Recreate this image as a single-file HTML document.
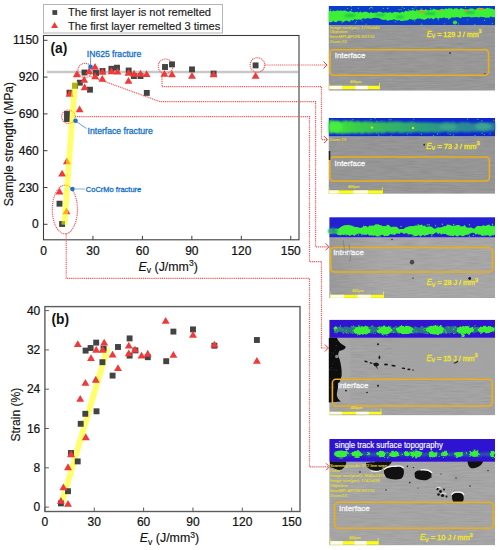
<!DOCTYPE html><html><head><meta charset="utf-8"><style>html,body{margin:0;padding:0;background:#fff;width:500px;height:550px;overflow:hidden;}</style></head><body><svg width="500" height="550" viewBox="0 0 500 550" style="display:block;font-family:'Liberation Sans', sans-serif">
<defs><filter id="bl1" x="-20%" y="-50%" width="140%" height="200%"><feGaussianBlur stdDeviation="0.8"/></filter><filter id="bl2" x="-20%" y="-50%" width="140%" height="200%"><feGaussianBlur stdDeviation="1.5"/></filter></defs>
<rect width="500" height="550" fill="#fff"/>
<rect x="43.5" y="4.5" width="179" height="28.5" fill="#fff" stroke="#b4b4b4" stroke-width="1"/>
<rect x="52.40" y="10.10" width="4.8" height="4.8" fill="#434343"/>
<polygon points="54.60,22.12 58.10,28.12 51.10,28.12" fill="#f03a3a"/>
<text x="68" y="16.3" font-size="11.1" fill="#1a1a1a" stroke="#1a1a1a" stroke-width="0.15">The first layer is not remelted</text>
<text x="68" y="29.8" font-size="11.1" fill="#1a1a1a" stroke="#1a1a1a" stroke-width="0.15">The first layer remelted 3 times</text>
<line x1="47" y1="72" x2="298" y2="72" stroke="#c8c8c8" stroke-width="2.4"/>
<rect x="43.5" y="35.5" width="255.5" height="204.3" fill="none" stroke="#3c3c3c" stroke-width="1.1"/>
<line x1="43.5" y1="40.30" x2="47.5" y2="40.30" stroke="#3c3c3c" stroke-width="1"/>
<text x="38.8" y="44.40" font-size="12" text-anchor="end" fill="#111" stroke="#111" stroke-width="0.22">1150</text>
<line x1="43.5" y1="77.10" x2="47.5" y2="77.10" stroke="#3c3c3c" stroke-width="1"/>
<text x="38.8" y="81.20" font-size="12" text-anchor="end" fill="#111" stroke="#111" stroke-width="0.22">920</text>
<line x1="43.5" y1="113.90" x2="47.5" y2="113.90" stroke="#3c3c3c" stroke-width="1"/>
<text x="38.8" y="118.00" font-size="12" text-anchor="end" fill="#111" stroke="#111" stroke-width="0.22">690</text>
<line x1="43.5" y1="150.70" x2="47.5" y2="150.70" stroke="#3c3c3c" stroke-width="1"/>
<text x="38.8" y="154.80" font-size="12" text-anchor="end" fill="#111" stroke="#111" stroke-width="0.22">460</text>
<line x1="43.5" y1="187.50" x2="47.5" y2="187.50" stroke="#3c3c3c" stroke-width="1"/>
<text x="38.8" y="191.60" font-size="12" text-anchor="end" fill="#111" stroke="#111" stroke-width="0.22">230</text>
<line x1="43.5" y1="224.30" x2="47.5" y2="224.30" stroke="#3c3c3c" stroke-width="1"/>
<text x="38.8" y="228.40" font-size="12" text-anchor="end" fill="#111" stroke="#111" stroke-width="0.22">0</text>
<line x1="43.50" y1="239.8" x2="43.50" y2="235.8" stroke="#3c3c3c" stroke-width="1"/>
<text x="43.50" y="254.7" font-size="12" text-anchor="middle" fill="#111" stroke="#111" stroke-width="0.22">0</text>
<line x1="92.95" y1="239.8" x2="92.95" y2="235.8" stroke="#3c3c3c" stroke-width="1"/>
<text x="92.95" y="254.7" font-size="12" text-anchor="middle" fill="#111" stroke="#111" stroke-width="0.22">30</text>
<line x1="142.40" y1="239.8" x2="142.40" y2="235.8" stroke="#3c3c3c" stroke-width="1"/>
<text x="142.40" y="254.7" font-size="12" text-anchor="middle" fill="#111" stroke="#111" stroke-width="0.22">60</text>
<line x1="191.85" y1="239.8" x2="191.85" y2="235.8" stroke="#3c3c3c" stroke-width="1"/>
<text x="191.85" y="254.7" font-size="12" text-anchor="middle" fill="#111" stroke="#111" stroke-width="0.22">90</text>
<line x1="241.30" y1="239.8" x2="241.30" y2="235.8" stroke="#3c3c3c" stroke-width="1"/>
<text x="241.30" y="254.7" font-size="12" text-anchor="middle" fill="#111" stroke="#111" stroke-width="0.22">120</text>
<line x1="290.75" y1="239.8" x2="290.75" y2="235.8" stroke="#3c3c3c" stroke-width="1"/>
<text x="290.75" y="254.7" font-size="12" text-anchor="middle" fill="#111" stroke="#111" stroke-width="0.22">150</text>
<text transform="translate(12.7,144.1) rotate(-90)" font-size="12.1" text-anchor="middle" fill="#111" stroke="#111" stroke-width="0.15">Sample strength (MPa)</text>
<text x="168.2" y="270.5" font-size="12.4" text-anchor="middle" fill="#111" stroke="#111" stroke-width="0.15"><tspan font-style="italic">E</tspan><tspan font-size="8.6" dy="2.6">v</tspan><tspan dy="-2.6"> (J/mm</tspan><tspan font-size="8.6" dy="-4.8">3</tspan><tspan dy="4.8">)</tspan></text>
<text x="50.5" y="52.5" font-size="13.8" font-weight="bold" fill="#111">(a)</text>
<circle cx="85" cy="70.4" r="7.1" fill="none" stroke="#f25858" stroke-width="1.2" stroke-dasharray="1.1,0.8"/>
<circle cx="68.4" cy="116.7" r="6.7" fill="none" stroke="#f25858" stroke-width="1.2" stroke-dasharray="1.1,0.8"/>
<circle cx="165.5" cy="66.3" r="7.3" fill="none" stroke="#f25858" stroke-width="1.2" stroke-dasharray="1.1,0.8"/>
<circle cx="257.4" cy="65" r="7.3" fill="none" stroke="#f25858" stroke-width="1.2" stroke-dasharray="1.1,0.8"/>
<ellipse cx="64.9" cy="209.5" rx="12.6" ry="24.3" fill="none" stroke="#f25858" stroke-width="1.2" stroke-dasharray="1.1,0.8"/>
<polyline points="264.7,65 327,65" fill="none" stroke="#f25858" stroke-width="1.2" stroke-dasharray="1.1,0.8"/>
<polyline points="162,73.5 162,86.6 321.5,86.6 321.5,139.6 327.5,139.6" fill="none" stroke="#f25858" stroke-width="1.2" stroke-dasharray="1.1,0.8"/>
<polyline points="89.5,76 160,101.6 315.6,101.6 315.6,246.8 329,246.8" fill="none" stroke="#f25858" stroke-width="1.2" stroke-dasharray="1.1,0.8"/>
<polyline points="75,116.7 309.5,116.7 309.5,261.6 321.5,261.6 321.5,348 328.4,348" fill="none" stroke="#f25858" stroke-width="1.2" stroke-dasharray="1.1,0.8"/>
<polyline points="66.2,233.6 66.2,278.4 309.5,278.4 309.5,466.8 329.5,466.8" fill="none" stroke="#f25858" stroke-width="1.2" stroke-dasharray="1.1,0.8"/>
<polyline points="323.5,61.5 327,65 323.5,68.5" fill="none" stroke="#f03a3a" stroke-width="1"/>
<polyline points="324.0,136.1 327.5,139.6 324.0,143.1" fill="none" stroke="#f03a3a" stroke-width="1"/>
<polyline points="325.5,243.3 329,246.8 325.5,250.3" fill="none" stroke="#f03a3a" stroke-width="1"/>
<polyline points="324.9,344.5 328.4,348 324.9,351.5" fill="none" stroke="#f03a3a" stroke-width="1"/>
<polyline points="326.0,463.3 329.5,466.8 326.0,470.3" fill="none" stroke="#f03a3a" stroke-width="1"/>
<rect x="81.55" y="69.55" width="5.9" height="5.9" fill="#434343"/>
<rect x="93.05" y="70.05" width="5.9" height="5.9" fill="#434343"/>
<rect x="99.55" y="68.05" width="5.9" height="5.9" fill="#434343"/>
<rect x="108.45" y="65.85" width="5.9" height="5.9" fill="#434343"/>
<rect x="114.05" y="64.75" width="5.9" height="5.9" fill="#434343"/>
<rect x="125.75" y="67.55" width="5.9" height="5.9" fill="#434343"/>
<rect x="130.95" y="73.05" width="5.9" height="5.9" fill="#434343"/>
<rect x="137.55" y="73.05" width="5.9" height="5.9" fill="#434343"/>
<rect x="143.85" y="89.95" width="5.9" height="5.9" fill="#434343"/>
<rect x="162.05" y="64.05" width="5.9" height="5.9" fill="#434343"/>
<rect x="169.05" y="61.45" width="5.9" height="5.9" fill="#434343"/>
<rect x="189.05" y="66.45" width="5.9" height="5.9" fill="#434343"/>
<rect x="210.65" y="70.65" width="5.9" height="5.9" fill="#434343"/>
<rect x="252.65" y="62.45" width="5.9" height="5.9" fill="#434343"/>
<rect x="76.85" y="79.75" width="5.9" height="5.9" fill="#434343"/>
<rect x="72.05" y="82.85" width="5.9" height="5.9" fill="#434343"/>
<rect x="87.05" y="86.75" width="5.9" height="5.9" fill="#434343"/>
<rect x="66.55" y="89.75" width="5.9" height="5.9" fill="#434343"/>
<rect x="64.05" y="111.05" width="5.9" height="5.9" fill="#434343"/>
<rect x="64.05" y="116.05" width="5.9" height="5.9" fill="#434343"/>
<rect x="56.55" y="200.75" width="5.9" height="5.9" fill="#434343"/>
<rect x="59.15" y="221.05" width="5.9" height="5.9" fill="#434343"/>
<polygon points="76.80,70.36 80.75,77.16 72.85,77.16" fill="#f03a3a"/>
<polygon points="89.20,67.36 93.15,74.16 85.25,74.16" fill="#f03a3a"/>
<polygon points="95.00,63.06 98.95,69.86 91.05,69.86" fill="#f03a3a"/>
<polygon points="95.20,72.36 99.15,79.16 91.25,79.16" fill="#f03a3a"/>
<polygon points="102.50,67.86 106.45,74.66 98.55,74.66" fill="#f03a3a"/>
<polygon points="102.30,75.06 106.25,81.86 98.35,81.86" fill="#f03a3a"/>
<polygon points="111.50,67.36 115.45,74.16 107.55,74.16" fill="#f03a3a"/>
<polygon points="117.50,67.76 121.45,74.56 113.55,74.56" fill="#f03a3a"/>
<polygon points="128.50,68.86 132.45,75.66 124.55,75.66" fill="#f03a3a"/>
<polygon points="128.50,77.06 132.45,83.86 124.55,83.86" fill="#f03a3a"/>
<polygon points="134.00,69.86 137.95,76.66 130.05,76.66" fill="#f03a3a"/>
<polygon points="140.50,69.86 144.45,76.66 136.55,76.66" fill="#f03a3a"/>
<polygon points="146.60,70.26 150.55,77.06 142.65,77.06" fill="#f03a3a"/>
<polygon points="84.20,75.86 88.15,82.66 80.25,82.66" fill="#f03a3a"/>
<polygon points="84.60,83.36 88.55,90.16 80.65,90.16" fill="#f03a3a"/>
<polygon points="69.60,89.86 73.55,96.66 65.65,96.66" fill="#f03a3a"/>
<polygon points="79.60,105.46 83.55,112.26 75.65,112.26" fill="#f03a3a"/>
<polygon points="164.40,70.06 168.35,76.86 160.45,76.86" fill="#f03a3a"/>
<polygon points="172.00,70.46 175.95,77.26 168.05,77.26" fill="#f03a3a"/>
<polygon points="192.00,72.06 195.95,78.86 188.05,78.86" fill="#f03a3a"/>
<polygon points="213.60,70.46 217.55,77.26 209.65,77.26" fill="#f03a3a"/>
<polygon points="255.60,72.06 259.55,78.86 251.65,78.86" fill="#f03a3a"/>
<polygon points="62.10,169.66 66.05,176.46 58.15,176.46" fill="#f03a3a"/>
<polygon points="59.50,187.66 63.45,194.46 55.55,194.46" fill="#f03a3a"/>
<polygon points="66.90,157.46 70.85,164.26 62.95,164.26" fill="#f03a3a"/>
<polygon points="66.50,207.46 70.45,214.26 62.55,214.26" fill="#f03a3a"/>
<line x1="75" y1="81.6" x2="64.3" y2="224.7" stroke="#ffff00" stroke-opacity="0.58" stroke-width="5.8"/>
<line x1="90.5" y1="57.5" x2="90.5" y2="66.5" stroke="#3a8ad8" stroke-width="0.8"/>
<circle cx="90.5" cy="66.8" r="2.3" fill="#1f6fd0"/>
<text x="86.8" y="56.8" font-size="8.6" fill="#1570c8" stroke="#1570c8" stroke-width="0.3">IN625 fracture</text>
<line x1="75.5" y1="121" x2="86.5" y2="128.5" stroke="#3a8ad8" stroke-width="0.8"/>
<circle cx="75.5" cy="120.8" r="2.3" fill="#1f6fd0"/>
<text x="87.6" y="133.6" font-size="8.65" fill="#1570c8" stroke="#1570c8" stroke-width="0.3">Interface fracture</text>
<line x1="72.5" y1="189" x2="85" y2="189" stroke="#98c0ec" stroke-width="1.2"/>
<circle cx="72.4" cy="189" r="2.3" fill="#1f6fd0"/>
<text x="85.8" y="192.3" font-size="7.5" fill="#1570c8" stroke="#1570c8" stroke-width="0.3">CoCrMo fracture</text>
<rect x="44.9" y="306.6" width="255.1" height="204.89999999999998" fill="none" stroke="#5c5c5c" stroke-width="1.4"/>
<line x1="44.9" y1="507.10" x2="48.9" y2="507.10" stroke="#5c5c5c" stroke-width="1"/>
<text x="40.3" y="511.20" font-size="12" text-anchor="end" fill="#111" stroke="#111" stroke-width="0.22">0</text>
<line x1="44.9" y1="467.80" x2="48.9" y2="467.80" stroke="#5c5c5c" stroke-width="1"/>
<text x="40.3" y="471.90" font-size="12" text-anchor="end" fill="#111" stroke="#111" stroke-width="0.22">8</text>
<line x1="44.9" y1="428.50" x2="48.9" y2="428.50" stroke="#5c5c5c" stroke-width="1"/>
<text x="40.3" y="432.60" font-size="12" text-anchor="end" fill="#111" stroke="#111" stroke-width="0.22">16</text>
<line x1="44.9" y1="389.20" x2="48.9" y2="389.20" stroke="#5c5c5c" stroke-width="1"/>
<text x="40.3" y="393.30" font-size="12" text-anchor="end" fill="#111" stroke="#111" stroke-width="0.22">24</text>
<line x1="44.9" y1="349.90" x2="48.9" y2="349.90" stroke="#5c5c5c" stroke-width="1"/>
<text x="40.3" y="354.00" font-size="12" text-anchor="end" fill="#111" stroke="#111" stroke-width="0.22">32</text>
<line x1="44.9" y1="310.60" x2="48.9" y2="310.60" stroke="#5c5c5c" stroke-width="1"/>
<text x="40.3" y="314.70" font-size="12" text-anchor="end" fill="#111" stroke="#111" stroke-width="0.22">40</text>
<line x1="44.90" y1="511.5" x2="44.90" y2="507.5" stroke="#5c5c5c" stroke-width="1"/>
<text x="44.90" y="526" font-size="12" text-anchor="middle" fill="#111" stroke="#111" stroke-width="0.22">0</text>
<line x1="94.25" y1="511.5" x2="94.25" y2="507.5" stroke="#5c5c5c" stroke-width="1"/>
<text x="94.25" y="526" font-size="12" text-anchor="middle" fill="#111" stroke="#111" stroke-width="0.22">30</text>
<line x1="143.60" y1="511.5" x2="143.60" y2="507.5" stroke="#5c5c5c" stroke-width="1"/>
<text x="143.60" y="526" font-size="12" text-anchor="middle" fill="#111" stroke="#111" stroke-width="0.22">60</text>
<line x1="192.95" y1="511.5" x2="192.95" y2="507.5" stroke="#5c5c5c" stroke-width="1"/>
<text x="192.95" y="526" font-size="12" text-anchor="middle" fill="#111" stroke="#111" stroke-width="0.22">90</text>
<line x1="242.30" y1="511.5" x2="242.30" y2="507.5" stroke="#5c5c5c" stroke-width="1"/>
<text x="242.30" y="526" font-size="12" text-anchor="middle" fill="#111" stroke="#111" stroke-width="0.22">120</text>
<line x1="291.65" y1="511.5" x2="291.65" y2="507.5" stroke="#5c5c5c" stroke-width="1"/>
<text x="291.65" y="526" font-size="12" text-anchor="middle" fill="#111" stroke="#111" stroke-width="0.22">150</text>
<text transform="translate(20.4,414.6) rotate(-90)" font-size="12.1" text-anchor="middle" fill="#111" stroke="#111" stroke-width="0.15">Strain (%)</text>
<text x="169.5" y="542.3" font-size="12.4" text-anchor="middle" fill="#111" stroke="#111" stroke-width="0.15"><tspan font-style="italic">E</tspan><tspan font-size="8.6" dy="2.6">v</tspan><tspan dy="-2.6"> (J/mm</tspan><tspan font-size="8.6" dy="-4.8">3</tspan><tspan dy="4.8">)</tspan></text>
<text x="51.5" y="323.9" font-size="13.8" font-weight="bold" fill="#111">(b)</text>
<line x1="107.5" y1="348" x2="62" y2="502" stroke="#ffff00" stroke-opacity="0.58" stroke-width="6"/>
<rect x="82.65" y="347.65" width="5.9" height="5.9" fill="#434343"/>
<rect x="87.65" y="345.05" width="5.9" height="5.9" fill="#434343"/>
<rect x="93.25" y="339.65" width="5.9" height="5.9" fill="#434343"/>
<rect x="100.65" y="345.65" width="5.9" height="5.9" fill="#434343"/>
<rect x="99.45" y="359.25" width="5.9" height="5.9" fill="#434343"/>
<rect x="115.05" y="344.05" width="5.9" height="5.9" fill="#434343"/>
<rect x="109.65" y="372.65" width="5.9" height="5.9" fill="#434343"/>
<rect x="126.65" y="335.45" width="5.9" height="5.9" fill="#434343"/>
<rect x="126.65" y="352.65" width="5.9" height="5.9" fill="#434343"/>
<rect x="132.45" y="347.45" width="5.9" height="5.9" fill="#434343"/>
<rect x="144.85" y="354.25" width="5.9" height="5.9" fill="#434343"/>
<rect x="163.25" y="358.25" width="5.9" height="5.9" fill="#434343"/>
<rect x="170.45" y="328.65" width="5.9" height="5.9" fill="#434343"/>
<rect x="190.05" y="326.45" width="5.9" height="5.9" fill="#434343"/>
<rect x="211.45" y="342.75" width="5.9" height="5.9" fill="#434343"/>
<rect x="253.95" y="337.05" width="5.9" height="5.9" fill="#434343"/>
<rect x="82.35" y="410.85" width="5.9" height="5.9" fill="#434343"/>
<rect x="93.55" y="408.35" width="5.9" height="5.9" fill="#434343"/>
<rect x="77.75" y="420.85" width="5.9" height="5.9" fill="#434343"/>
<rect x="68.05" y="450.05" width="5.9" height="5.9" fill="#434343"/>
<rect x="74.75" y="458.45" width="5.9" height="5.9" fill="#434343"/>
<rect x="65.05" y="488.25" width="5.9" height="5.9" fill="#434343"/>
<rect x="57.95" y="500.45" width="5.9" height="5.9" fill="#434343"/>
<polygon points="77.80,340.26 81.75,347.06 73.85,347.06" fill="#f03a3a"/>
<polygon points="96.20,345.86 100.15,352.66 92.25,352.66" fill="#f03a3a"/>
<polygon points="91.00,354.26 94.95,361.06 87.05,361.06" fill="#f03a3a"/>
<polygon points="104.20,338.66 108.15,345.46 100.25,345.46" fill="#f03a3a"/>
<polygon points="102.60,345.86 106.55,352.66 98.65,352.66" fill="#f03a3a"/>
<polygon points="112.60,350.66 116.55,357.46 108.65,357.46" fill="#f03a3a"/>
<polygon points="118.00,364.26 121.95,371.06 114.05,371.06" fill="#f03a3a"/>
<polygon points="128.80,341.66 132.75,348.46 124.85,348.46" fill="#f03a3a"/>
<polygon points="128.80,349.46 132.75,356.26 124.85,356.26" fill="#f03a3a"/>
<polygon points="135.00,345.66 138.95,352.46 131.05,352.46" fill="#f03a3a"/>
<polygon points="141.60,351.66 145.55,358.46 137.65,358.46" fill="#f03a3a"/>
<polygon points="147.80,349.86 151.75,356.66 143.85,356.66" fill="#f03a3a"/>
<polygon points="165.70,316.96 169.65,323.76 161.75,323.76" fill="#f03a3a"/>
<polygon points="173.40,351.06 177.35,357.86 169.45,357.86" fill="#f03a3a"/>
<polygon points="193.00,330.86 196.95,337.66 189.05,337.66" fill="#f03a3a"/>
<polygon points="214.40,340.76 218.35,347.56 210.45,347.56" fill="#f03a3a"/>
<polygon points="256.90,357.06 260.85,363.86 252.95,363.86" fill="#f03a3a"/>
<polygon points="95.80,375.86 99.75,382.66 91.85,382.66" fill="#f03a3a"/>
<polygon points="85.40,379.06 89.35,385.86 81.45,385.86" fill="#f03a3a"/>
<polygon points="80.20,395.06 84.15,401.86 76.25,401.86" fill="#f03a3a"/>
<polygon points="85.80,433.36 89.75,440.16 81.85,440.16" fill="#f03a3a"/>
<polygon points="71.00,450.36 74.95,457.16 67.05,457.16" fill="#f03a3a"/>
<polygon points="68.00,463.36 71.95,470.16 64.05,470.16" fill="#f03a3a"/>
<polygon points="63.40,483.46 67.35,490.26 59.45,490.26" fill="#f03a3a"/>
<polygon points="60.90,496.96 64.85,503.76 56.95,503.76" fill="#f03a3a"/>
<polygon points="68.00,500.06 71.95,506.86 64.05,506.86" fill="#f03a3a"/>
<defs><filter id="gb" x="-10%" y="-60%" width="120%" height="220%"><feGaussianBlur stdDeviation="0.9"/></filter><filter id="gb2" x="-10%" y="-60%" width="120%" height="220%"><feGaussianBlur stdDeviation="0.6"/></filter><filter id="rough" x="-5%" y="-50%" width="110%" height="200%"><feTurbulence type="fractalNoise" baseFrequency="0.35" numOctaves="2" seed="3" result="n"/><feDisplacementMap in="SourceGraphic" in2="n" scale="4" xChannelSelector="R" yChannelSelector="G" result="d"/><feGaussianBlur in="d" stdDeviation="0.5"/></filter><filter id="tex" x="0" y="0" width="100%" height="100%"><feTurbulence type="fractalNoise" baseFrequency="0.9 0.08" numOctaves="2" seed="5"/><feColorMatrix type="matrix" values="0 0 0 0 0.5  0 0 0 0 0.5  0 0 0 0 0.5  0 0 0 -1.2 0.75"/></filter></defs>
<rect x="328.8" y="25" width="166.2" height="65.5" fill="#909090"/>
<filter id="tx1" x="0" y="0" width="100%" height="100%"><feTurbulence type="fractalNoise" baseFrequency="0.06 0.7" numOctaves="2" seed="3"/><feColorMatrix type="matrix" values="1 0 0 0 0.065  1 0 0 0 0.065  1 0 0 0 0.065  0 0 0 0 0.13"/></filter>
<rect x="328.8" y="25" width="166.2" height="65.5" filter="url(#tx1)"/>
<rect x="328.8" y="6" width="166.2" height="19.0" fill="#0b3ccb"/>
<path d="M328.8,10.9 L330.3,10.6 L331.8,11.4 L333.3,10.4 L334.8,11.2 L336.3,10.8 L337.8,10.2 L339.3,11.0 L340.8,10.2 L342.3,10.9 L343.8,10.4 L345.3,10.5 L346.8,11.2 L348.3,12.1 L349.8,10.9 L351.3,11.2 L352.8,12.0 L354.3,12.6 L355.8,11.9 L357.3,11.7 L358.8,12.8 L360.3,11.2 L361.8,12.8 L363.3,11.9 L364.8,11.7 L366.3,11.8 L367.8,12.2 L369.3,13.2 L370.8,12.0 L372.3,12.7 L373.8,12.9 L375.3,12.4 L376.8,12.7 L378.3,11.8 L379.8,11.8 L381.3,12.1 L382.8,12.9 L384.3,12.5 L385.8,12.3 L387.3,12.7 L388.8,12.4 L390.3,12.1 L391.8,12.9 L393.3,12.6 L394.8,11.7 L396.3,12.2 L397.8,12.1 L399.3,12.7 L400.8,12.4 L402.3,11.5 L403.8,12.5 L405.3,10.7 L406.8,10.9 L408.3,11.4 L409.8,10.2 L411.3,10.7 L412.8,9.8 L414.3,10.7 L415.8,10.7 L417.3,10.1 L418.8,10.5 L420.3,9.5 L421.8,10.1 L423.3,9.9 L424.8,9.9 L426.3,9.6 L427.8,10.2 L429.3,10.3 L430.8,9.4 L432.3,9.7 L433.8,8.5 L435.3,9.6 L436.8,9.5 L438.3,10.1 L439.8,9.8 L441.3,8.8 L442.8,9.0 L444.3,9.5 L445.8,8.3 L447.3,9.0 L448.8,8.5 L450.3,8.4 L451.8,8.2 L453.3,9.5 L454.8,8.3 L456.3,8.5 L457.8,8.7 L459.3,9.6 L460.8,8.1 L462.3,8.8 L463.8,9.0 L465.3,9.5 L466.8,9.4 L468.3,9.4 L469.8,8.4 L471.3,8.6 L472.8,8.4 L474.3,9.4 L475.8,9.5 L477.3,8.0 L478.8,8.0 L480.3,8.1 L481.8,8.1 L483.3,8.6 L484.8,8.8 L486.3,8.2 L487.8,7.7 L489.3,8.5 L490.8,8.4 L492.3,8.7 L493.8,9.4 L495.0,8.9 L495.0,17.0 L493.8,17.2 L492.3,17.3 L490.8,16.2 L489.3,17.7 L487.8,17.5 L486.3,17.7 L484.8,17.5 L483.3,16.9 L481.8,17.0 L480.3,16.7 L478.8,17.8 L477.3,16.9 L475.8,17.0 L474.3,17.3 L472.8,17.2 L471.3,17.5 L469.8,16.9 L468.3,16.8 L466.8,17.0 L465.3,16.9 L463.8,17.3 L462.3,16.7 L460.8,18.2 L459.3,17.7 L457.8,16.9 L456.3,17.2 L454.8,17.5 L453.3,17.6 L451.8,17.3 L450.3,18.6 L448.8,18.9 L447.3,18.0 L445.8,18.2 L444.3,17.6 L442.8,17.7 L441.3,18.2 L439.8,18.1 L438.3,19.1 L436.8,17.9 L435.3,17.7 L433.8,19.4 L432.3,18.7 L430.8,18.1 L429.3,18.9 L427.8,18.0 L426.3,18.9 L424.8,19.8 L423.3,19.6 L421.8,19.3 L420.3,18.6 L418.8,18.8 L417.3,18.5 L415.8,19.7 L414.3,19.4 L412.8,19.9 L411.3,19.2 L409.8,19.0 L408.3,20.1 L406.8,20.6 L405.3,20.6 L403.8,20.7 L402.3,20.9 L400.8,20.9 L399.3,20.0 L397.8,20.5 L396.3,20.2 L394.8,19.5 L393.3,19.5 L391.8,19.9 L390.3,19.9 L388.8,20.6 L387.3,20.8 L385.8,19.6 L384.3,20.1 L382.8,19.8 L381.3,19.5 L379.8,18.4 L378.3,18.1 L376.8,18.0 L375.3,17.8 L373.8,17.7 L372.3,18.3 L370.8,18.7 L369.3,18.6 L367.8,18.1 L366.3,18.6 L364.8,19.1 L363.3,18.0 L361.8,19.2 L360.3,19.7 L358.8,19.6 L357.3,19.7 L355.8,19.5 L354.3,19.3 L352.8,20.7 L351.3,20.1 L349.8,21.0 L348.3,21.4 L346.8,20.6 L345.3,20.8 L343.8,22.0 L342.3,21.8 L340.8,20.9 L339.3,20.8 L337.8,20.9 L336.3,22.2 L334.8,22.1 L333.3,20.9 L331.8,22.1 L330.3,22.4 L328.8,21.8 Z" fill="#3cf034" filter="url(#gb2)" />
<ellipse cx="350" cy="15.5" rx="6" ry="1.5" fill="#22b858" filter="url(#gb)"/>
<ellipse cx="380" cy="15" rx="5" ry="1.2" fill="#22b858" filter="url(#gb)"/>
<ellipse cx="430" cy="13.5" rx="6" ry="1.3" fill="#22b858" filter="url(#gb)"/>
<ellipse cx="470" cy="12.5" rx="5" ry="1.2" fill="#22b858" filter="url(#gb)"/>
<ellipse cx="400" cy="17" rx="4" ry="1.2" fill="#22b858" filter="url(#gb)"/>
<circle cx="387.5" cy="8.4" r="0.6" fill="#30e030"/>
<circle cx="351.5" cy="6.5" r="0.6" fill="#30e030"/>
<circle cx="489.2" cy="8.8" r="0.6" fill="#30e030"/>
<circle cx="416.4" cy="9.8" r="0.6" fill="#30e030"/>
<circle cx="401.1" cy="9.6" r="0.6" fill="#30e030"/>
<circle cx="465.5" cy="7.2" r="0.6" fill="#30e030"/>
<circle cx="371.3" cy="7.5" r="0.6" fill="#30e030"/>
<circle cx="369.4" cy="8.6" r="0.6" fill="#30e030"/>
<circle cx="372.5" cy="8.0" r="0.6" fill="#30e030"/>
<circle cx="351.5" cy="9.7" r="0.6" fill="#30e030"/>
<circle cx="388.0" cy="8.1" r="0.6" fill="#30e030"/>
<circle cx="425.7" cy="9.7" r="0.6" fill="#30e030"/>
<circle cx="399.0" cy="9.7" r="0.6" fill="#30e030"/>
<circle cx="412.3" cy="8.4" r="0.6" fill="#30e030"/>
<circle cx="415.9" cy="6.6" r="0.6" fill="#30e030"/>
<circle cx="402.2" cy="7.1" r="0.6" fill="#30e030"/>
<circle cx="330.6" cy="9.3" r="0.6" fill="#30e030"/>
<circle cx="358.3" cy="8.2" r="0.6" fill="#30e030"/>
<circle cx="448.9" cy="8.4" r="0.6" fill="#30e030"/>
<circle cx="383.5" cy="8.3" r="0.6" fill="#30e030"/>
<circle cx="421.1" cy="9.2" r="0.6" fill="#30e030"/>
<circle cx="347.4" cy="8.5" r="0.6" fill="#30e030"/>
<circle cx="370.8" cy="7.5" r="0.6" fill="#30e030"/>
<circle cx="456.7" cy="8.3" r="0.6" fill="#30e030"/>
<circle cx="422.1" cy="9.2" r="0.6" fill="#30e030"/>
<circle cx="479.6" cy="8.1" r="0.6" fill="#30e030"/>
<circle cx="430.5" cy="8.3" r="0.6" fill="#30e030"/>
<circle cx="414.0" cy="8.9" r="0.6" fill="#30e030"/>
<circle cx="404.2" cy="8.4" r="0.6" fill="#30e030"/>
<circle cx="408.4" cy="9.8" r="0.6" fill="#30e030"/>
<circle cx="444.7" cy="23.8" r="0.6" fill="#30d838"/>
<circle cx="484.5" cy="20.4" r="0.6" fill="#30d838"/>
<circle cx="421.8" cy="24.2" r="0.6" fill="#30d838"/>
<circle cx="467.8" cy="19.8" r="0.6" fill="#30d838"/>
<circle cx="349.9" cy="21.4" r="0.6" fill="#30d838"/>
<circle cx="341.9" cy="20.3" r="0.6" fill="#30d838"/>
<circle cx="342.0" cy="22.7" r="0.6" fill="#30d838"/>
<circle cx="458.6" cy="23.9" r="0.6" fill="#30d838"/>
<circle cx="355.3" cy="22.9" r="0.6" fill="#30d838"/>
<circle cx="438.3" cy="19.8" r="0.6" fill="#30d838"/>
<circle cx="474.8" cy="24.3" r="0.6" fill="#30d838"/>
<circle cx="366.0" cy="24.2" r="0.6" fill="#30d838"/>
<circle cx="395.3" cy="21.7" r="0.6" fill="#30d838"/>
<circle cx="492.3" cy="23.6" r="0.6" fill="#30d838"/>
<circle cx="356.5" cy="21.4" r="0.6" fill="#30d838"/>
<circle cx="414.6" cy="20.9" r="0.6" fill="#30d838"/>
<circle cx="362.1" cy="20.8" r="0.6" fill="#30d838"/>
<circle cx="448.4" cy="19.1" r="0.6" fill="#30d838"/>
<ellipse cx="422" cy="11.8" rx="4" ry="0.9" fill="#f08a20" filter="url(#gb2)"/>
<ellipse cx="466" cy="10.3" rx="3" ry="0.8" fill="#f08a20" filter="url(#gb2)"/>
<ellipse cx="481" cy="9.2" rx="3" ry="0.9" fill="#f08a20" filter="url(#gb2)"/>
<ellipse cx="440" cy="10.5" rx="2" ry="0.7" fill="#f08a20" filter="url(#gb2)"/>
<ellipse cx="455" cy="22.5" rx="2.2" ry="2" fill="#38e030" filter="url(#gb2)"/>
<text x="426.7" y="36.5" font-size="8" fill="#f0e428" stroke="#f0e428" stroke-width="0.4" textLength="54.9" lengthAdjust="spacingAndGlyphs"><tspan font-style="italic" font-size="8.4">E</tspan><tspan font-size="5.8" dy="1.8">V</tspan><tspan dy="-1.8"> = 129 J / mm</tspan><tspan font-size="6" dy="-3.2">3</tspan></text>
<rect x="330" y="49.8" width="158.6" height="25.4" rx="3.5" fill="none" stroke="#eeae16" stroke-width="1.6"/>
<text x="334.8" y="58.1" font-size="7.6" fill="#f4f4f4" stroke="#f4f4f4" stroke-width="0.3" textLength="30.6" lengthAdjust="spacingAndGlyphs">Interface</text>
<rect x="329.2" y="85.8" width="50.6" height="3.4" fill="#ffff10"/>
<rect x="329.2" y="85.8" width="12.8" height="3.4" fill="#fcfcec"/>
<rect x="355.2" y="85.8" width="12.5" height="3.4" fill="#fcfcec"/>
<rect x="379.0" y="82.6" width="0.8" height="6.6" fill="#f4f020"/>
<rect x="329.2" y="82.6" width="0.6" height="6.6" fill="#f4f020" opacity="0.6"/>
<text x="355.7" y="83.2" font-size="3.6" fill="#eee22a" font-weight="bold" text-anchor="middle">400μm</text>
<text x="329.8" y="28.6" font-size="4.2" fill="#e4dc26" stroke="#e4dc26" stroke-width="0.12">Image size(μm): 1770x640</text>
<text x="329.8" y="33.3" font-size="4.2" fill="#e4dc26" stroke="#e4dc26" stroke-width="0.12">Objective</text>
<text x="329.8" y="38.0" font-size="4.2" fill="#e4dc26" stroke="#e4dc26" stroke-width="0.12">lens:MPLAPONLEXT20</text>
<text x="329.8" y="42.7" font-size="4.2" fill="#e4dc26" stroke="#e4dc26" stroke-width="0.12">Zoom:1X</text>
<circle cx="450" cy="53" r="0.9" fill="#333"/><circle cx="485" cy="73.6" r="0.7" fill="#333"/>
<rect x="328.8" y="136.3" width="166.2" height="57.3" fill="#8e8e8e"/>
<filter id="tx2" x="0" y="0" width="100%" height="100%"><feTurbulence type="fractalNoise" baseFrequency="0.06 0.7" numOctaves="2" seed="6"/><feColorMatrix type="matrix" values="1 0 0 0 0.057  1 0 0 0 0.057  1 0 0 0 0.057  0 0 0 0 0.13"/></filter>
<rect x="328.8" y="136.3" width="166.2" height="57.3" filter="url(#tx2)"/>
<rect x="328.8" y="118" width="166.2" height="18.3" fill="#0e26d0"/>
<defs><linearGradient id="p2g" gradientUnits="userSpaceOnUse" x1="328.8" y1="0" x2="495" y2="0"><stop offset="0" stop-color="#44e83c"/><stop offset="0.1" stop-color="#3cd840"/><stop offset="0.3" stop-color="#34bc5c"/><stop offset="0.55" stop-color="#2ca27a"/><stop offset="0.8" stop-color="#2a8a92"/><stop offset="1" stop-color="#2a80a0"/></linearGradient></defs>
<path d="M328.8,120.9 L330.3,120.7 L331.8,120.1 L333.3,120.6 L334.8,121.0 L336.3,120.9 L337.8,120.3 L339.3,121.6 L340.8,121.4 L342.3,121.6 L343.8,120.4 L345.3,120.7 L346.8,120.4 L348.3,121.4 L349.8,120.7 L351.3,120.5 L352.8,121.0 L354.3,121.7 L355.8,121.6 L357.3,120.9 L358.8,120.8 L360.3,121.9 L361.8,121.5 L363.3,121.7 L364.8,120.9 L366.3,120.9 L367.8,121.8 L369.3,121.5 L370.8,121.1 L372.3,122.3 L373.8,121.9 L375.3,122.2 L376.8,121.2 L378.3,122.3 L379.8,121.2 L381.3,122.3 L382.8,121.7 L384.3,121.6 L385.8,121.9 L387.3,122.4 L388.8,121.5 L390.3,121.4 L391.8,121.9 L393.3,121.6 L394.8,121.4 L396.3,121.5 L397.8,121.4 L399.3,121.6 L400.8,121.8 L402.3,121.8 L403.8,122.5 L405.3,121.9 L406.8,122.2 L408.3,121.7 L409.8,122.0 L411.3,121.6 L412.8,121.9 L414.3,121.6 L415.8,122.6 L417.3,122.4 L418.8,121.9 L420.3,122.3 L421.8,122.9 L423.3,121.8 L424.8,122.8 L426.3,122.2 L427.8,122.3 L429.3,122.8 L430.8,122.2 L432.3,122.4 L433.8,122.6 L435.3,123.0 L436.8,122.2 L438.3,122.9 L439.8,122.7 L441.3,122.6 L442.8,122.3 L444.3,122.2 L445.8,121.8 L447.3,121.9 L448.8,121.9 L450.3,122.8 L451.8,122.1 L453.3,122.0 L454.8,121.9 L456.3,123.0 L457.8,123.0 L459.3,122.7 L460.8,122.2 L462.3,122.1 L463.8,122.2 L465.3,122.5 L466.8,122.1 L468.3,122.5 L469.8,122.3 L471.3,123.3 L472.8,123.3 L474.3,122.7 L475.8,122.4 L477.3,123.4 L478.8,122.5 L480.3,122.6 L481.8,122.1 L483.3,122.7 L484.8,122.9 L486.3,122.9 L487.8,122.5 L489.3,123.0 L490.8,122.3 L492.3,122.7 L493.8,122.4 L495.0,122.9 L495.0,130.9 L493.8,130.8 L492.3,131.2 L490.8,131.1 L489.3,131.7 L487.8,131.6 L486.3,131.9 L484.8,131.8 L483.3,131.9 L481.8,132.2 L480.3,131.5 L478.8,131.5 L477.3,132.4 L475.8,131.3 L474.3,132.1 L472.8,132.0 L471.3,131.2 L469.8,132.4 L468.3,132.5 L466.8,132.1 L465.3,132.3 L463.8,132.4 L462.3,131.5 L460.8,132.0 L459.3,132.0 L457.8,132.5 L456.3,132.4 L454.8,132.5 L453.3,132.2 L451.8,132.6 L450.3,132.3 L448.8,132.4 L447.3,131.7 L445.8,131.5 L444.3,131.7 L442.8,132.0 L441.3,131.7 L439.8,132.7 L438.3,132.4 L436.8,132.5 L435.3,132.5 L433.8,132.6 L432.3,132.4 L430.8,131.7 L429.3,132.8 L427.8,132.8 L426.3,132.5 L424.8,132.5 L423.3,132.7 L421.8,131.9 L420.3,132.8 L418.8,132.2 L417.3,131.9 L415.8,132.2 L414.3,132.8 L412.8,132.1 L411.3,132.9 L409.8,133.2 L408.3,132.6 L406.8,132.5 L405.3,132.6 L403.8,132.9 L402.3,133.1 L400.8,132.9 L399.3,133.0 L397.8,132.2 L396.3,132.3 L394.8,132.5 L393.3,133.2 L391.8,132.6 L390.3,133.0 L388.8,132.3 L387.3,132.3 L385.8,132.6 L384.3,133.2 L382.8,133.3 L381.3,133.2 L379.8,132.7 L378.3,133.0 L376.8,133.0 L375.3,133.0 L373.8,132.5 L372.3,133.6 L370.8,132.7 L369.3,133.8 L367.8,133.8 L366.3,132.5 L364.8,133.1 L363.3,133.7 L361.8,133.9 L360.3,133.2 L358.8,133.0 L357.3,133.0 L355.8,134.0 L354.3,133.0 L352.8,133.6 L351.3,133.0 L349.8,133.5 L348.3,134.1 L346.8,133.0 L345.3,133.9 L343.8,133.5 L342.3,134.0 L340.8,133.8 L339.3,133.1 L337.8,134.1 L336.3,133.5 L334.8,132.8 L333.3,132.8 L331.8,133.5 L330.3,133.4 L328.8,133.2 Z" fill="url(#p2g)" filter="url(#gb)" />
<ellipse cx="336" cy="127" rx="7" ry="5" fill="#48ec40" filter="url(#gb)"/>
<ellipse cx="448" cy="127" rx="9" ry="3" fill="#3aa490" filter="url(#gb)"/>
<ellipse cx="483" cy="126.5" rx="8" ry="3.5" fill="#3aa490" filter="url(#gb)"/>
<ellipse cx="372" cy="127.6" rx="1.2" ry="1.2" fill="#d8e020" filter="url(#gb2)"/>
<ellipse cx="413" cy="128" rx="1.2" ry="1.2" fill="#d8e020" filter="url(#gb2)"/>
<circle cx="353.1" cy="119.5" r="0.6" fill="#30d040"/>
<circle cx="381.8" cy="121.0" r="0.6" fill="#30d040"/>
<circle cx="330.3" cy="120.8" r="0.6" fill="#30d040"/>
<circle cx="467.6" cy="118.9" r="0.6" fill="#30d040"/>
<circle cx="481.9" cy="120.6" r="0.6" fill="#30d040"/>
<circle cx="477.9" cy="119.4" r="0.6" fill="#30d040"/>
<circle cx="391.0" cy="119.7" r="0.6" fill="#30d040"/>
<circle cx="493.8" cy="120.3" r="0.6" fill="#30d040"/>
<circle cx="389.2" cy="119.8" r="0.6" fill="#30d040"/>
<circle cx="375.1" cy="118.6" r="0.6" fill="#30d040"/>
<circle cx="346.7" cy="121.0" r="0.6" fill="#30d040"/>
<circle cx="376.8" cy="121.3" r="0.6" fill="#30d040"/>
<circle cx="370.9" cy="119.3" r="0.6" fill="#30d040"/>
<circle cx="413.8" cy="119.1" r="0.6" fill="#30d040"/>
<circle cx="391.2" cy="135.9" r="0.6" fill="#30d040"/>
<circle cx="475.0" cy="135.4" r="0.6" fill="#30d040"/>
<circle cx="433.5" cy="135.7" r="0.6" fill="#30d040"/>
<circle cx="484.3" cy="134.6" r="0.6" fill="#30d040"/>
<circle cx="448.0" cy="133.1" r="0.6" fill="#30d040"/>
<circle cx="450.1" cy="134.4" r="0.6" fill="#30d040"/>
<circle cx="453.4" cy="134.9" r="0.6" fill="#30d040"/>
<circle cx="376.9" cy="133.1" r="0.6" fill="#30d040"/>
<circle cx="482.0" cy="133.4" r="0.6" fill="#30d040"/>
<circle cx="407.4" cy="134.0" r="0.6" fill="#30d040"/>
<circle cx="378.8" cy="135.2" r="0.6" fill="#30d040"/>
<circle cx="490.1" cy="133.8" r="0.6" fill="#30d040"/>
<circle cx="437.6" cy="133.9" r="0.6" fill="#30d040"/>
<circle cx="421.4" cy="134.2" r="0.6" fill="#30d040"/>
<text x="426.3" y="148.5" font-size="8" fill="#f0e428" stroke="#f0e428" stroke-width="0.4" textLength="53.2" lengthAdjust="spacingAndGlyphs"><tspan font-style="italic" font-size="8.4">E</tspan><tspan font-size="5.8" dy="1.8">V</tspan><tspan dy="-1.8"> = 73 J / mm</tspan><tspan font-size="6" dy="-3.2">3</tspan></text>
<circle cx="424.2" cy="144.7" r="0.9" fill="#222"/>
<rect x="329.8" y="157" width="159.6" height="24.0" rx="3.5" fill="none" stroke="#eeae16" stroke-width="1.6"/>
<text x="334.6" y="165.9" font-size="7.6" fill="#f4f4f4" stroke="#f4f4f4" stroke-width="0.3" textLength="30.6" lengthAdjust="spacingAndGlyphs">Interface</text>
<rect x="328.8" y="190.4" width="53.9" height="3.2" fill="#ffff10"/>
<rect x="328.8" y="190.4" width="9.8" height="3.2" fill="#fcfcec"/>
<rect x="353.3" y="190.4" width="14.7" height="3.2" fill="#fcfcec"/>
<rect x="381.9" y="187.2" width="0.8" height="6.4" fill="#f4f020"/>
<rect x="328.8" y="187.2" width="0.6" height="6.4" fill="#f4f020" opacity="0.6"/>
<text x="353.8" y="187.8" font-size="3.6" fill="#eee22a" font-weight="bold" text-anchor="middle">400μm</text>
<rect x="328.8" y="151" width="1.5" height="9" fill="#202020"/>
<text x="329.6" y="141.3" font-size="4.2" fill="#e4dc26" stroke="#e4dc26" stroke-width="0.12">Zoom:1X</text>
<rect x="329.4" y="237.4" width="165.6" height="60.6" fill="#a0a0a0"/>
<filter id="tx3" x="0" y="0" width="100%" height="100%"><feTurbulence type="fractalNoise" baseFrequency="0.06 0.7" numOctaves="2" seed="9"/><feColorMatrix type="matrix" values="1 0 0 0 0.127  1 0 0 0 0.127  1 0 0 0 0.127  0 0 0 0 0.13"/></filter>
<rect x="329.4" y="237.4" width="165.6" height="60.6" filter="url(#tx3)"/>
<defs><linearGradient id="p3l" x1="0" x2="1" y1="0" y2="0"><stop offset="0" stop-color="#000" stop-opacity="0.08"/><stop offset="1" stop-color="#000" stop-opacity="0"/></linearGradient></defs>
<rect x="329.4" y="237.4" width="50" height="60.6" fill="url(#p3l)"/>
<rect x="329.4" y="217.3" width="165.6" height="20.1" fill="#2320d2"/>
<path d="M328.8,228.9 L330.3,228.9 L331.8,228.8 L333.3,229.9 L334.8,229.0 L336.3,228.5 L337.8,228.9 L339.3,228.1 L340.8,226.9 L342.3,226.0 L343.8,225.6 L345.3,225.0 L346.8,225.2 L348.3,224.8 L349.8,225.2 L351.3,225.4 L352.8,226.1 L354.3,226.7 L355.8,226.9 L357.3,227.0 L358.8,227.6 L360.3,228.0 L361.8,227.5 L363.3,226.8 L364.8,225.9 L366.3,226.1 L367.8,227.2 L369.3,225.4 L370.8,225.7 L372.3,225.6 L373.8,225.7 L375.3,224.5 L376.8,224.6 L378.3,224.7 L379.8,225.1 L381.3,225.2 L382.8,226.3 L384.3,226.1 L385.8,226.2 L387.3,224.8 L388.8,225.1 L390.3,226.6 L391.8,227.2 L393.3,226.5 L394.8,227.0 L396.3,226.5 L397.8,227.8 L399.3,229.2 L400.8,229.1 L402.3,229.0 L403.8,229.0 L405.3,227.6 L406.8,227.2 L408.3,226.6 L409.8,226.3 L411.3,225.9 L412.8,226.3 L414.3,225.8 L415.8,225.5 L417.3,225.6 L418.8,225.0 L420.3,225.1 L421.8,224.4 L423.3,226.1 L424.8,225.5 L426.3,227.1 L427.8,226.8 L429.3,226.3 L430.8,226.4 L432.3,227.2 L433.8,228.4 L435.3,228.8 L436.8,227.7 L438.3,227.2 L439.8,227.5 L441.3,227.2 L442.8,226.7 L444.3,226.1 L445.8,226.3 L447.3,224.6 L448.8,224.8 L450.3,224.9 L451.8,225.9 L453.3,225.4 L454.8,225.9 L456.3,225.3 L457.8,225.0 L459.3,225.0 L460.8,226.4 L462.3,226.3 L463.8,226.1 L465.3,226.1 L466.8,227.4 L468.3,227.8 L469.8,227.5 L471.3,227.4 L472.8,228.2 L474.3,228.8 L475.8,227.1 L477.3,226.0 L478.8,225.9 L480.3,225.9 L481.8,226.2 L483.3,225.1 L484.8,225.9 L486.3,225.5 L487.8,225.0 L489.3,224.6 L490.8,226.2 L492.3,225.3 L493.8,226.5 L495.0,225.5 L495.0,234.5 L493.8,235.5 L492.3,234.9 L490.8,236.3 L489.3,235.7 L487.8,235.2 L486.3,235.2 L484.8,235.4 L483.3,235.6 L481.8,235.9 L480.3,234.4 L478.8,234.7 L477.3,233.8 L475.8,234.7 L474.3,232.9 L472.8,232.7 L471.3,232.9 L469.8,233.7 L468.3,234.7 L466.8,234.8 L465.3,234.9 L463.8,235.9 L462.3,236.2 L460.8,235.4 L459.3,235.2 L457.8,236.6 L456.3,236.3 L454.8,235.1 L453.3,236.2 L451.8,235.8 L450.3,235.8 L448.8,235.6 L447.3,234.9 L445.8,234.0 L444.3,234.0 L442.8,233.8 L441.3,234.8 L439.8,233.0 L438.3,234.2 L436.8,232.5 L435.3,232.8 L433.8,233.9 L432.3,234.5 L430.8,234.3 L429.3,234.0 L427.8,235.0 L426.3,234.9 L424.8,236.1 L423.3,235.1 L421.8,235.6 L420.3,236.7 L418.8,235.1 L417.3,235.7 L415.8,236.3 L414.3,236.1 L412.8,234.7 L411.3,234.6 L409.8,234.0 L408.3,234.7 L406.8,232.9 L405.3,233.6 L403.8,233.9 L402.3,232.8 L400.8,232.6 L399.3,233.9 L397.8,233.6 L396.3,233.5 L394.8,234.9 L393.3,234.5 L391.8,234.4 L390.3,234.1 L388.8,235.6 L387.3,236.1 L385.8,235.7 L384.3,236.3 L382.8,234.7 L381.3,235.1 L379.8,235.6 L378.3,236.5 L376.8,236.6 L375.3,235.6 L373.8,235.3 L372.3,235.4 L370.8,235.2 L369.3,235.7 L367.8,234.1 L366.3,235.0 L364.8,234.8 L363.3,234.7 L361.8,234.2 L360.3,233.7 L358.8,233.4 L357.3,234.0 L355.8,234.8 L354.3,236.0 L352.8,234.7 L351.3,235.0 L349.8,236.0 L348.3,235.0 L346.8,234.7 L345.3,234.5 L343.8,235.2 L342.3,234.4 L340.8,235.4 L339.3,235.1 L337.8,235.1 L336.3,233.6 L334.8,233.2 L333.3,233.1 L331.8,233.6 L330.3,233.9 L328.8,233.4 Z" fill="#3ef03a" filter="url(#gb2)" />
<ellipse cx="333" cy="231" rx="5" ry="3" fill="#2a9a80" filter="url(#gb)"/>
<circle cx="376.1" cy="225.0" r="0.7" fill="#40e040"/>
<circle cx="435.5" cy="225.7" r="0.7" fill="#40e040"/>
<circle cx="455.2" cy="226.1" r="0.7" fill="#40e040"/>
<circle cx="442.3" cy="224.3" r="0.7" fill="#40e040"/>
<circle cx="469.5" cy="224.7" r="0.7" fill="#40e040"/>
<circle cx="427.3" cy="224.9" r="0.7" fill="#40e040"/>
<circle cx="453.7" cy="224.5" r="0.7" fill="#40e040"/>
<circle cx="378.1" cy="224.6" r="0.7" fill="#40e040"/>
<circle cx="363.6" cy="226.2" r="0.7" fill="#40e040"/>
<circle cx="429.1" cy="224.8" r="0.7" fill="#40e040"/>
<circle cx="401.0" cy="226.5" r="0.7" fill="#40e040"/>
<circle cx="418.1" cy="224.6" r="0.7" fill="#40e040"/>
<circle cx="464.5" cy="225.6" r="0.7" fill="#40e040"/>
<circle cx="492.6" cy="224.3" r="0.7" fill="#40e040"/>
<circle cx="413.1" cy="236.1" r="0.7" fill="#40e040"/>
<circle cx="469.4" cy="236.3" r="0.7" fill="#40e040"/>
<circle cx="346.2" cy="235.1" r="0.7" fill="#40e040"/>
<circle cx="358.4" cy="234.9" r="0.7" fill="#40e040"/>
<circle cx="489.8" cy="235.7" r="0.7" fill="#40e040"/>
<circle cx="483.2" cy="235.2" r="0.7" fill="#40e040"/>
<circle cx="473.4" cy="235.4" r="0.7" fill="#40e040"/>
<circle cx="380.0" cy="236.1" r="0.7" fill="#40e040"/>
<circle cx="485.6" cy="234.7" r="0.7" fill="#40e040"/>
<circle cx="431.8" cy="235.7" r="0.7" fill="#40e040"/>
<circle cx="373.5" cy="235.2" r="0.7" fill="#40e040"/>
<circle cx="361.8" cy="234.9" r="0.7" fill="#40e040"/>
<rect x="330.7" y="247.5" width="161.9" height="24.5" rx="3.5" fill="none" stroke="#eeae16" stroke-width="1.6"/>
<text x="333.2" y="254.6" font-size="7.6" fill="#f4f4f4" stroke="#f4f4f4" stroke-width="0.3" textLength="30.6" lengthAdjust="spacingAndGlyphs">Interface</text>
<text x="426.7" y="284.7" font-size="8" fill="#f0e428" stroke="#f0e428" stroke-width="0.4" textLength="51.4" lengthAdjust="spacingAndGlyphs"><tspan font-style="italic" font-size="8.4">E</tspan><tspan font-size="5.8" dy="1.8">V</tspan><tspan dy="-1.8"> = 28 J / mm</tspan><tspan font-size="6" dy="-3.2">3</tspan></text>
<ellipse cx="412" cy="262.2" rx="2.2" ry="2.4" fill="#4a4a4a" filter="url(#gb2)"/>
<circle cx="469.7" cy="278.5" r="1.4" fill="#1a1a1a"/>
<path d="M343,240 C344,246 345,250 344,256 M349,244 C350,250 351,256 350,262" stroke="#6a6a6a" stroke-width="0.7" fill="none" opacity="0.7"/>
<circle cx="413" cy="278" r="0.7" fill="#333"/><circle cx="392" cy="239.5" r="0.8" fill="#333"/>
<rect x="330.3" y="294.8" width="53.7" height="3.0" fill="#ffff10"/>
<rect x="330.3" y="294.8" width="13.7" height="3.0" fill="#fcfcec"/>
<rect x="357.5" y="294.8" width="13.5" height="3.0" fill="#fcfcec"/>
<rect x="383.2" y="291.6" width="0.8" height="6.2" fill="#f4f020"/>
<rect x="330.3" y="291.6" width="0.6" height="6.2" fill="#f4f020" opacity="0.6"/>
<text x="358.0" y="292.2" font-size="3.6" fill="#eee22a" font-weight="bold" text-anchor="middle">400μm</text>
<rect x="329.4" y="337.8" width="165.6" height="77.3" fill="#9c9c9c"/>
<filter id="tx4" x="0" y="0" width="100%" height="100%"><feTurbulence type="fractalNoise" baseFrequency="0.06 0.7" numOctaves="2" seed="12"/><feColorMatrix type="matrix" values="1 0 0 0 0.112  1 0 0 0 0.112  1 0 0 0 0.112  0 0 0 0 0.13"/></filter>
<rect x="329.4" y="337.8" width="165.6" height="77.3" filter="url(#tx4)"/>
<rect x="392" y="338" width="103" height="40" fill="#a4a4a4" opacity="0.8"/>
<rect x="336" y="338" width="14" height="64" fill="#aaaaaa" opacity="0.7" filter="url(#gb)"/>
<rect x="329.4" y="319.9" width="165.6" height="17.9" fill="#3014d0"/>
<path d="M334.0,327.0 L335.5,327.7 L337.0,327.8 L338.5,326.8 L340.0,326.4 L341.5,327.0 L343.0,327.6 L344.5,326.5 L346.0,326.7 L347.5,326.4 L349.0,327.5 L350.5,326.9 L352.0,325.9 L353.5,325.9 L355.0,326.4 L356.5,326.6 L358.0,326.8 L359.5,325.7 L361.0,325.8 L362.5,326.9 L364.0,326.3 L365.5,326.1 L367.0,326.2 L368.5,327.5 L370.0,326.2 L371.5,326.7 L373.0,326.3 L374.5,326.5 L376.0,327.4 L377.5,327.7 L379.0,326.5 L380.5,326.2 L382.0,327.2 L383.5,326.2 L385.0,325.9 L386.5,327.7 L388.0,326.7 L389.5,327.6 L391.0,326.7 L392.5,327.7 L394.0,326.9 L395.5,326.3 L397.0,326.0 L398.5,327.1 L400.0,327.3 L401.5,327.8 L403.0,326.2 L404.5,327.2 L406.0,326.7 L407.5,327.0 L409.0,326.2 L410.5,326.5 L412.0,326.9 L413.5,327.7 L415.0,326.1 L416.5,326.8 L418.0,327.4 L419.5,327.7 L421.0,326.1 L422.5,326.0 L424.0,327.6 L425.5,327.6 L427.0,326.6 L428.5,325.7 L430.0,327.4 L431.5,326.3 L433.0,327.3 L434.5,326.8 L436.0,327.2 L437.5,325.8 L439.0,327.1 L440.5,325.9 L442.0,326.3 L443.5,327.2 L445.0,327.2 L446.5,325.9 L448.0,326.0 L449.5,326.3 L451.0,326.6 L452.5,326.3 L454.0,325.8 L455.5,326.1 L457.0,327.1 L458.5,327.4 L460.0,325.7 L461.5,326.8 L463.0,327.2 L464.5,325.8 L466.0,327.4 L467.5,326.0 L469.0,327.0 L470.5,326.9 L472.0,327.1 L473.5,326.4 L475.0,326.7 L476.5,327.0 L478.0,326.7 L479.5,327.2 L481.0,326.8 L482.5,326.8 L484.0,326.0 L485.5,327.2 L487.0,327.0 L488.5,326.5 L490.0,327.5 L491.5,327.6 L493.0,326.9 L494.5,326.4 L495.0,326.9 L495.0,331.7 L494.5,331.8 L493.0,332.4 L491.5,331.7 L490.0,332.4 L488.5,332.6 L487.0,331.6 L485.5,332.9 L484.0,331.8 L482.5,333.1 L481.0,333.2 L479.5,332.7 L478.0,331.8 L476.5,332.8 L475.0,332.6 L473.5,333.7 L472.0,332.2 L470.5,333.6 L469.0,334.0 L467.5,333.5 L466.0,333.7 L464.5,332.5 L463.0,334.1 L461.5,333.1 L460.0,334.1 L458.5,334.1 L457.0,332.6 L455.5,333.9 L454.0,334.2 L452.5,332.5 L451.0,333.1 L449.5,333.9 L448.0,332.8 L446.5,334.3 L445.0,333.0 L443.5,334.1 L442.0,332.8 L440.5,333.5 L439.0,334.3 L437.5,332.9 L436.0,333.0 L434.5,333.5 L433.0,333.1 L431.5,332.5 L430.0,332.8 L428.5,332.7 L427.0,334.2 L425.5,333.7 L424.0,334.1 L422.5,332.6 L421.0,333.8 L419.5,332.5 L418.0,333.3 L416.5,333.5 L415.0,332.9 L413.5,333.9 L412.0,333.2 L410.5,333.2 L409.0,333.8 L407.5,332.3 L406.0,334.0 L404.5,333.3 L403.0,332.8 L401.5,333.6 L400.0,332.5 L398.5,334.0 L397.0,333.2 L395.5,332.7 L394.0,333.6 L392.5,332.9 L391.0,332.4 L389.5,333.6 L388.0,332.2 L386.5,333.8 L385.0,332.7 L383.5,333.5 L382.0,334.2 L380.5,333.4 L379.0,333.6 L377.5,332.9 L376.0,332.3 L374.5,332.4 L373.0,332.7 L371.5,333.6 L370.0,333.3 L368.5,333.5 L367.0,334.3 L365.5,332.7 L364.0,332.9 L362.5,333.8 L361.0,332.5 L359.5,332.5 L358.0,333.2 L356.5,332.7 L355.0,333.1 L353.5,332.8 L352.0,333.4 L350.5,333.4 L349.0,332.5 L347.5,333.3 L346.0,332.9 L344.5,332.1 L343.0,333.6 L341.5,332.2 L340.0,331.9 L338.5,331.8 L337.0,332.8 L335.5,333.3 L334.0,333.1 Z" fill="#2aa070" filter="url(#gb2)" opacity="0.7"/>
<circle cx="399.5" cy="327.7" r="0.55" fill="#3ad848"/>
<circle cx="337.8" cy="331.0" r="0.55" fill="#3ad848"/>
<circle cx="424.8" cy="328.5" r="0.55" fill="#3ad848"/>
<circle cx="438.0" cy="329.3" r="0.55" fill="#3ad848"/>
<circle cx="484.1" cy="331.7" r="0.55" fill="#3ad848"/>
<circle cx="375.3" cy="333.2" r="0.55" fill="#3ad848"/>
<circle cx="343.0" cy="330.0" r="0.55" fill="#3ad848"/>
<circle cx="400.1" cy="327.5" r="0.55" fill="#3ad848"/>
<circle cx="345.2" cy="332.1" r="0.55" fill="#3ad848"/>
<circle cx="338.0" cy="330.2" r="0.55" fill="#3ad848"/>
<circle cx="484.7" cy="326.7" r="0.55" fill="#3ad848"/>
<circle cx="367.5" cy="330.7" r="0.55" fill="#3ad848"/>
<circle cx="416.1" cy="331.0" r="0.55" fill="#3ad848"/>
<circle cx="464.5" cy="327.0" r="0.55" fill="#3ad848"/>
<circle cx="384.9" cy="328.1" r="0.55" fill="#3ad848"/>
<circle cx="343.7" cy="333.1" r="0.55" fill="#3ad848"/>
<circle cx="459.7" cy="331.6" r="0.55" fill="#3ad848"/>
<circle cx="337.0" cy="332.7" r="0.55" fill="#3ad848"/>
<circle cx="453.7" cy="329.5" r="0.55" fill="#3ad848"/>
<circle cx="453.2" cy="329.3" r="0.55" fill="#3ad848"/>
<circle cx="371.7" cy="326.4" r="0.55" fill="#3ad848"/>
<circle cx="372.7" cy="325.8" r="0.55" fill="#3ad848"/>
<circle cx="389.0" cy="331.9" r="0.55" fill="#3ad848"/>
<circle cx="445.8" cy="332.7" r="0.55" fill="#3ad848"/>
<circle cx="448.4" cy="327.8" r="0.55" fill="#3ad848"/>
<circle cx="423.5" cy="329.2" r="0.55" fill="#3ad848"/>
<circle cx="460.6" cy="329.9" r="0.55" fill="#3ad848"/>
<circle cx="377.9" cy="331.0" r="0.55" fill="#3ad848"/>
<circle cx="488.5" cy="327.3" r="0.55" fill="#3ad848"/>
<circle cx="475.0" cy="325.6" r="0.55" fill="#3ad848"/>
<circle cx="377.1" cy="327.5" r="0.55" fill="#3ad848"/>
<circle cx="453.5" cy="333.5" r="0.55" fill="#3ad848"/>
<circle cx="453.9" cy="328.3" r="0.55" fill="#3ad848"/>
<circle cx="475.1" cy="328.3" r="0.55" fill="#3ad848"/>
<circle cx="373.8" cy="333.2" r="0.55" fill="#3ad848"/>
<circle cx="435.6" cy="331.4" r="0.55" fill="#3ad848"/>
<circle cx="441.1" cy="333.8" r="0.55" fill="#3ad848"/>
<circle cx="410.2" cy="332.6" r="0.55" fill="#3ad848"/>
<circle cx="446.2" cy="332.8" r="0.55" fill="#3ad848"/>
<circle cx="405.1" cy="331.7" r="0.55" fill="#3ad848"/>
<circle cx="426.1" cy="328.1" r="0.55" fill="#3ad848"/>
<circle cx="369.5" cy="330.8" r="0.55" fill="#3ad848"/>
<circle cx="348.3" cy="333.2" r="0.55" fill="#3ad848"/>
<circle cx="358.8" cy="325.7" r="0.55" fill="#3ad848"/>
<circle cx="352.9" cy="333.4" r="0.55" fill="#3ad848"/>
<circle cx="390.5" cy="326.7" r="0.55" fill="#3ad848"/>
<circle cx="340.5" cy="325.9" r="0.55" fill="#3ad848"/>
<circle cx="445.4" cy="330.9" r="0.55" fill="#3ad848"/>
<circle cx="446.1" cy="331.8" r="0.55" fill="#3ad848"/>
<circle cx="346.4" cy="330.5" r="0.55" fill="#3ad848"/>
<circle cx="393.4" cy="332.4" r="0.55" fill="#3ad848"/>
<circle cx="465.5" cy="333.1" r="0.55" fill="#3ad848"/>
<circle cx="346.4" cy="332.9" r="0.55" fill="#3ad848"/>
<circle cx="480.5" cy="333.5" r="0.55" fill="#3ad848"/>
<circle cx="352.9" cy="327.2" r="0.55" fill="#3ad848"/>
<circle cx="353.7" cy="325.8" r="0.55" fill="#3ad848"/>
<circle cx="469.9" cy="332.4" r="0.55" fill="#3ad848"/>
<circle cx="436.2" cy="332.5" r="0.55" fill="#3ad848"/>
<circle cx="435.8" cy="327.9" r="0.55" fill="#3ad848"/>
<circle cx="351.8" cy="326.3" r="0.55" fill="#3ad848"/>
<circle cx="455.7" cy="327.2" r="0.55" fill="#3ad848"/>
<circle cx="386.4" cy="329.1" r="0.55" fill="#3ad848"/>
<circle cx="339.3" cy="327.7" r="0.55" fill="#3ad848"/>
<circle cx="380.6" cy="331.6" r="0.55" fill="#3ad848"/>
<circle cx="394.1" cy="328.2" r="0.55" fill="#3ad848"/>
<circle cx="488.3" cy="329.8" r="0.55" fill="#3ad848"/>
<circle cx="470.5" cy="330.8" r="0.55" fill="#3ad848"/>
<circle cx="340.9" cy="329.0" r="0.55" fill="#3ad848"/>
<circle cx="405.0" cy="332.1" r="0.55" fill="#3ad848"/>
<circle cx="390.8" cy="331.5" r="0.55" fill="#3ad848"/>
<ellipse cx="335.5" cy="328.5" rx="2" ry="2.2" fill="#3af034" filter="url(#rough)"/>
<ellipse cx="362" cy="330.5" rx="8.5" ry="4.2" fill="#3af034" filter="url(#rough)"/>
<ellipse cx="384.5" cy="330.5" rx="8" ry="4" fill="#3af034" filter="url(#rough)"/>
<ellipse cx="405" cy="330" rx="8.5" ry="4.2" fill="#3af034" filter="url(#rough)"/>
<ellipse cx="435" cy="330" rx="9.5" ry="4.5" fill="#3af034" filter="url(#rough)"/>
<ellipse cx="465" cy="330" rx="8.5" ry="4" fill="#3af034" filter="url(#rough)"/>
<ellipse cx="486" cy="329.5" rx="8.5" ry="3.8" fill="#3af034" filter="url(#rough)"/>
<ellipse cx="463" cy="335.5" rx="1.8" ry="1.8" fill="#3af034" filter="url(#rough)"/>
<path d="M328.8,337.8 L337,337.8 C338,341 340,343.5 345.5,346.5 C346,349 342,350.5 339.5,350.8 C338,353 337.5,356 339.5,359 C341,364 342,370 341.6,376 C339.5,382 337.5,388 336.8,394 C336.5,397.5 338.5,399.5 341,401.5 L328.8,402.5 Z" fill="#0d0d0d"/>
<circle cx="333.5" cy="353.0" r="0.5" fill="#3a3a3a"/>
<circle cx="336.0" cy="345.5" r="0.5" fill="#3a3a3a"/>
<circle cx="335.6" cy="350.2" r="0.5" fill="#3a3a3a"/>
<circle cx="329.5" cy="352.1" r="0.5" fill="#3a3a3a"/>
<circle cx="335.2" cy="398.7" r="0.5" fill="#3a3a3a"/>
<circle cx="329.5" cy="369.4" r="0.5" fill="#3a3a3a"/>
<circle cx="333.2" cy="387.8" r="0.5" fill="#3a3a3a"/>
<circle cx="330.9" cy="369.7" r="0.5" fill="#3a3a3a"/>
<circle cx="332.1" cy="389.9" r="0.5" fill="#3a3a3a"/>
<circle cx="331.5" cy="396.6" r="0.5" fill="#3a3a3a"/>
<circle cx="331.6" cy="352.9" r="0.5" fill="#3a3a3a"/>
<circle cx="334.7" cy="369.9" r="0.5" fill="#3a3a3a"/>
<circle cx="330.3" cy="378.2" r="0.5" fill="#3a3a3a"/>
<circle cx="330.1" cy="387.3" r="0.5" fill="#3a3a3a"/>
<circle cx="334.7" cy="387.2" r="0.5" fill="#3a3a3a"/>
<circle cx="334.2" cy="361.3" r="0.5" fill="#3a3a3a"/>
<circle cx="332.5" cy="363.7" r="0.5" fill="#3a3a3a"/>
<circle cx="336.2" cy="345.2" r="0.5" fill="#3a3a3a"/>
<circle cx="336.2" cy="341.5" r="0.5" fill="#3a3a3a"/>
<circle cx="331.0" cy="355.8" r="0.5" fill="#3a3a3a"/>
<circle cx="336.3" cy="370.1" r="0.5" fill="#3a3a3a"/>
<circle cx="332.3" cy="393.0" r="0.5" fill="#3a3a3a"/>
<circle cx="331.3" cy="367.7" r="0.5" fill="#3a3a3a"/>
<circle cx="333.5" cy="385.3" r="0.5" fill="#3a3a3a"/>
<circle cx="335.1" cy="378.8" r="0.5" fill="#3a3a3a"/>
<circle cx="336.8" cy="356.5" r="1.8" fill="#8a8a8a"/>
<ellipse cx="366" cy="361.5" rx="1.8" ry="0.9" transform="rotate(15 366 361.5)" fill="#1a1a1a"/>
<ellipse cx="371" cy="363" rx="1.5" ry="0.8" transform="rotate(10 371 363)" fill="#1a1a1a"/>
<ellipse cx="376.2" cy="364.6" rx="2.6" ry="2" transform="rotate(0 376.2 364.6)" fill="#1a1a1a"/>
<ellipse cx="379.4" cy="357.4" rx="0.9" ry="1.8" transform="rotate(0 379.4 357.4)" fill="#1a1a1a"/>
<ellipse cx="378" cy="344.3" rx="1" ry="1" transform="rotate(0 378 344.3)" fill="#1a1a1a"/>
<ellipse cx="386" cy="364.6" rx="2" ry="1" transform="rotate(0 386 364.6)" fill="#1a1a1a"/>
<ellipse cx="393.5" cy="365.7" rx="2.2" ry="0.9" transform="rotate(8 393.5 365.7)" fill="#1a1a1a"/>
<ellipse cx="403.5" cy="368.3" rx="1.8" ry="0.8" transform="rotate(10 403.5 368.3)" fill="#1a1a1a"/>
<ellipse cx="408.9" cy="369.4" rx="1.6" ry="0.8" transform="rotate(0 408.9 369.4)" fill="#1a1a1a"/>
<ellipse cx="346" cy="390.6" rx="0.9" ry="0.9" transform="rotate(0 346 390.6)" fill="#1a1a1a"/>
<ellipse cx="378" cy="385.7" rx="1" ry="1" transform="rotate(0 378 385.7)" fill="#1a1a1a"/>
<ellipse cx="367" cy="392.5" rx="0.8" ry="0.8" transform="rotate(0 367 392.5)" fill="#1a1a1a"/>
<ellipse cx="413" cy="370" rx="1" ry="0.6" transform="rotate(0 413 370)" fill="#1a1a1a"/>
<path d="M373,363.8 L379,364.8 M376,366 L377.5,368.5" stroke="#1a1a1a" stroke-width="0.9" fill="none"/>
<rect x="332.4" y="379.2" width="159.8" height="26.8" rx="3.5" fill="none" stroke="#eeae16" stroke-width="1.6"/>
<text x="337.8" y="388.0" font-size="7.6" fill="#f4f4f4" stroke="#f4f4f4" stroke-width="0.3" textLength="30.6" lengthAdjust="spacingAndGlyphs">Interface</text>
<text x="426.5" y="360.5" font-size="8" fill="#f0e428" stroke="#f0e428" stroke-width="0.4" textLength="51.1" lengthAdjust="spacingAndGlyphs"><tspan font-style="italic" font-size="8.4">E</tspan><tspan font-size="5.8" dy="1.8">V</tspan><tspan dy="-1.8"> = 15 J / mm</tspan><tspan font-size="6" dy="-3.2">3</tspan></text>
<path d="M453.8,363.2 C455.5,363 457,362.3 458,361.2" stroke="#222" stroke-width="1.1" fill="none"/>
<rect x="329.2" y="411.8" width="52.2" height="2.6" fill="#ffff10"/>
<rect x="329.2" y="411.8" width="12.8" height="2.6" fill="#fcfcec"/>
<rect x="356" y="411.8" width="12.8" height="2.6" fill="#fcfcec"/>
<rect x="380.6" y="408.6" width="0.8" height="5.8" fill="#f4f020"/>
<rect x="329.2" y="408.6" width="0.6" height="5.8" fill="#f4f020" opacity="0.6"/>
<text x="356.5" y="409.2" font-size="3.6" fill="#eee22a" font-weight="bold" text-anchor="middle">400μm</text>
<rect x="329.4" y="461.8" width="165.6" height="83.3" fill="#9e9e9e"/>
<filter id="tx5" x="0" y="0" width="100%" height="100%"><feTurbulence type="fractalNoise" baseFrequency="0.06 0.7" numOctaves="2" seed="15"/><feColorMatrix type="matrix" values="1 0 0 0 0.120  1 0 0 0 0.120  1 0 0 0 0.120  0 0 0 0 0.13"/></filter>
<rect x="329.4" y="461.8" width="165.6" height="83.3" filter="url(#tx5)"/>
<rect x="329.4" y="439" width="165.6" height="22.8" fill="#2e14d2"/>
<text x="334.8" y="447.6" font-size="8.8" fill="#ffffff" stroke="#ffffff" stroke-width="0.15" textLength="108" lengthAdjust="spacingAndGlyphs">single track surface topography</text>
<path d="M334.0,452.3 L335.5,452.2 L337.0,451.9 L338.5,453.0 L340.0,452.8 L341.5,452.9 L343.0,452.0 L344.5,452.4 L346.0,452.9 L347.5,452.6 L349.0,451.9 L350.5,452.4 L352.0,453.1 L353.5,452.1 L355.0,452.0 L356.5,452.2 L358.0,452.8 L359.5,453.0 L361.0,451.9 L362.5,451.9 L364.0,452.1 L365.5,452.2 L367.0,452.5 L368.5,452.0 L370.0,452.2 L371.5,452.0 L373.0,453.3 L374.5,452.9 L376.0,451.9 L377.5,453.2 L379.0,451.9 L380.5,452.3 L382.0,453.3 L383.5,453.0 L385.0,452.9 L386.5,452.4 L388.0,452.0 L389.5,452.7 L391.0,451.9 L392.5,452.0 L394.0,452.3 L395.5,451.8 L397.0,452.3 L398.5,453.0 L400.0,452.8 L401.5,452.5 L403.0,452.7 L404.5,452.4 L406.0,451.9 L407.5,452.7 L409.0,452.3 L410.5,452.9 L412.0,453.2 L413.5,452.4 L415.0,452.6 L416.5,452.9 L418.0,452.4 L419.5,452.1 L421.0,452.9 L422.5,453.1 L424.0,452.9 L425.5,452.8 L427.0,453.1 L428.5,452.8 L430.0,452.7 L431.5,452.4 L433.0,452.2 L434.5,452.7 L436.0,451.9 L437.5,452.4 L439.0,453.0 L440.5,452.8 L442.0,452.7 L443.5,452.1 L445.0,452.4 L446.5,452.4 L448.0,452.7 L449.5,452.4 L451.0,452.8 L452.5,453.2 L454.0,452.0 L455.5,452.7 L457.0,452.9 L458.5,452.3 L460.0,452.5 L461.5,453.3 L463.0,451.8 L464.5,452.6 L466.0,452.0 L467.5,453.0 L469.0,453.2 L470.5,452.5 L472.0,451.9 L473.5,452.6 L475.0,452.6 L476.5,452.8 L478.0,452.5 L479.5,452.7 L481.0,453.0 L482.5,452.5 L484.0,452.4 L485.5,453.2 L487.0,452.0 L488.5,452.8 L490.0,452.3 L491.5,452.9 L493.0,451.9 L494.5,453.3 L495.0,452.3 L495.0,455.3 L494.5,455.6 L493.0,455.8 L491.5,455.2 L490.0,455.9 L488.5,455.9 L487.0,456.3 L485.5,455.8 L484.0,455.6 L482.5,455.6 L481.0,456.4 L479.5,456.7 L478.0,456.0 L476.5,455.6 L475.0,456.5 L473.5,455.8 L472.0,455.5 L470.5,455.4 L469.0,456.4 L467.5,456.5 L466.0,456.2 L464.5,456.0 L463.0,456.1 L461.5,455.6 L460.0,456.7 L458.5,455.8 L457.0,456.2 L455.5,456.5 L454.0,456.5 L452.5,455.9 L451.0,455.7 L449.5,456.1 L448.0,455.4 L446.5,456.5 L445.0,455.8 L443.5,456.6 L442.0,455.6 L440.5,455.8 L439.0,455.6 L437.5,455.9 L436.0,455.5 L434.5,455.2 L433.0,456.4 L431.5,455.6 L430.0,455.6 L428.5,455.7 L427.0,456.0 L425.5,455.9 L424.0,456.2 L422.5,456.3 L421.0,455.8 L419.5,456.7 L418.0,456.6 L416.5,455.3 L415.0,456.5 L413.5,456.6 L412.0,456.5 L410.5,455.4 L409.0,456.5 L407.5,456.2 L406.0,455.2 L404.5,455.2 L403.0,456.7 L401.5,456.2 L400.0,455.6 L398.5,455.4 L397.0,455.4 L395.5,455.6 L394.0,456.4 L392.5,455.8 L391.0,455.4 L389.5,456.6 L388.0,456.5 L386.5,455.5 L385.0,456.6 L383.5,456.2 L382.0,456.5 L380.5,456.3 L379.0,456.6 L377.5,456.5 L376.0,456.5 L374.5,455.5 L373.0,456.3 L371.5,456.0 L370.0,456.4 L368.5,455.9 L367.0,456.6 L365.5,456.1 L364.0,455.6 L362.5,455.6 L361.0,455.4 L359.5,456.0 L358.0,455.3 L356.5,455.9 L355.0,455.4 L353.5,456.0 L352.0,456.0 L350.5,456.1 L349.0,456.6 L347.5,455.2 L346.0,456.5 L344.5,455.9 L343.0,456.1 L341.5,456.3 L340.0,456.5 L338.5,455.8 L337.0,455.9 L335.5,456.7 L334.0,455.3 Z" fill="#2a8a90" filter="url(#gb)" opacity="0.6"/>
<ellipse cx="341" cy="454" rx="7" ry="3.4" fill="#38f038" filter="url(#rough)"/>
<ellipse cx="357" cy="454" rx="5" ry="3" fill="#38f038" filter="url(#rough)"/>
<ellipse cx="368.5" cy="454.3" rx="1.8" ry="2" fill="#38f038" filter="url(#rough)"/>
<ellipse cx="381" cy="454" rx="5" ry="3.2" fill="#38f038" filter="url(#rough)"/>
<ellipse cx="394" cy="454" rx="5" ry="3.2" fill="#38f038" filter="url(#rough)"/>
<ellipse cx="407" cy="453.8" rx="2.7" ry="2.5" fill="#38f038" filter="url(#rough)"/>
<ellipse cx="416" cy="454" rx="6" ry="3.4" fill="#38f038" filter="url(#rough)"/>
<ellipse cx="433" cy="454.3" rx="4.3" ry="3.2" fill="#38f038" filter="url(#rough)"/>
<ellipse cx="445" cy="453.5" rx="3" ry="2.8" fill="#38f038" filter="url(#rough)"/>
<ellipse cx="458.5" cy="454.5" rx="4.5" ry="2.4" fill="#38f038" filter="url(#rough)"/>
<ellipse cx="474.5" cy="453.8" rx="4.5" ry="3.2" fill="#38f038" filter="url(#rough)"/>
<ellipse cx="492.5" cy="454" rx="2.5" ry="3.2" fill="#38f038" filter="url(#rough)"/>
<circle cx="436.3" cy="455.1" r="0.6" fill="#36e040"/>
<circle cx="339.5" cy="454.9" r="0.6" fill="#36e040"/>
<circle cx="443.5" cy="457.5" r="0.6" fill="#36e040"/>
<circle cx="387.5" cy="457.9" r="0.6" fill="#36e040"/>
<circle cx="416.2" cy="453.9" r="0.6" fill="#36e040"/>
<circle cx="477.7" cy="450.3" r="0.6" fill="#36e040"/>
<circle cx="449.2" cy="455.0" r="0.6" fill="#36e040"/>
<circle cx="388.8" cy="456.9" r="0.6" fill="#36e040"/>
<circle cx="393.2" cy="453.8" r="0.6" fill="#36e040"/>
<circle cx="418.6" cy="456.2" r="0.6" fill="#36e040"/>
<circle cx="368.5" cy="453.5" r="0.6" fill="#36e040"/>
<circle cx="402.2" cy="454.4" r="0.6" fill="#36e040"/>
<circle cx="466.4" cy="452.3" r="0.6" fill="#36e040"/>
<circle cx="466.6" cy="453.2" r="0.6" fill="#36e040"/>
<circle cx="415.1" cy="452.2" r="0.6" fill="#36e040"/>
<circle cx="415.5" cy="457.8" r="0.6" fill="#36e040"/>
<circle cx="439.1" cy="456.3" r="0.6" fill="#36e040"/>
<circle cx="387.6" cy="452.5" r="0.6" fill="#36e040"/>
<circle cx="382.6" cy="454.7" r="0.6" fill="#36e040"/>
<circle cx="435.9" cy="456.3" r="0.6" fill="#36e040"/>
<circle cx="341.4" cy="455.8" r="0.6" fill="#36e040"/>
<circle cx="475.8" cy="454.4" r="0.6" fill="#36e040"/>
<circle cx="342.9" cy="452.4" r="0.6" fill="#36e040"/>
<circle cx="336.0" cy="451.5" r="0.6" fill="#36e040"/>
<path d="M330,461.6 L346,461.6 C347,463.5 345,466 343.5,468 C342,470 339,470.5 336.5,469.5 C334,468.5 332,467.5 330,467 Z" fill="#111"/>
<path d="M366,463 C369,462.2 374,462 378,462.6 C381,463.5 383,465.5 382.5,468.5 C381.5,470.5 378.5,471.3 375,470.8 C371.5,470.2 368,468.5 366.5,466.5 Z" fill="#111"/>
<path d="M371,470.8 C374,471.8 378,471.8 381,470.5" stroke="#f6f6f6" stroke-width="1" fill="none" stroke-linecap="round"/>
<path d="M375,461.6 L392,461.6 C391,464 388,466.5 385,467.5 C381,467.5 377,466 375,465 Z" fill="#111"/>
<path d="M384,470 C386,467.5 392,466.5 396,467 C399,466 402,467 403.5,469 C404.5,472 404,476 401.5,478.5 C397,480 391,479.5 387,478 C384.5,476 383.5,473 384,470 Z" fill="#111"/>
<path d="M384.5,469 C387,467 391,466 395,466.2 C398.5,465.5 401.5,466 403,467.5" stroke="#f6f6f6" stroke-width="1.4" fill="none" stroke-linecap="round"/>
<path d="M414.5,473 C416,470.5 420,470 424,470.5 C427,470 430,471 431.5,473.5 C432,476.5 430,479.5 426,480.2 C421,480.5 417,479.5 415,477.5 Z" fill="#111"/>
<path d="M421,469.8 C425,469.2 429,470 431.8,472.5" stroke="#f6f6f6" stroke-width="1.2" fill="none" stroke-linecap="round"/>
<path d="M467.6,461.2 L483,461.2 C482.5,464.5 479,467 475,467.9 C473,468.6 471.5,468.5 470,467.5 C468.5,466 467.8,464 467.6,462 Z" fill="#111"/>
<circle cx="437.5" cy="489" r="1.2" fill="#151515"/>
<circle cx="440.5" cy="491.5" r="1.4" fill="#151515"/>
<circle cx="444" cy="489.5" r="1" fill="#151515"/>
<circle cx="438.5" cy="494.5" r="1.3" fill="#151515"/>
<circle cx="442.5" cy="495.5" r="1.6" fill="#151515"/>
<circle cx="446.5" cy="496.5" r="1" fill="#151515"/>
<path d="M436.5,488 C438,486.8 440,487 441,488.2" stroke="#f6f6f6" stroke-width="0.9" fill="none" stroke-linecap="round"/>
<path d="M441.5,493.5 C443,492.5 445,492.8 446,494" stroke="#f6f6f6" stroke-width="0.9" fill="none" stroke-linecap="round"/>
<path d="M452,495 C453,493 456,492.5 458.5,493 C461,492.5 463.2,494 463.6,496.5 C464,499 463.5,501 462,502.2 L453.5,502.2 C452.2,500 451.6,497.5 452,495 Z" fill="#111"/>
<path d="M451.8,494.5 C453,492.2 456,491.8 459,492.2 C461.5,491.8 463,492.8 463.8,494.5" stroke="#f6f6f6" stroke-width="1.3" fill="none" stroke-linecap="round"/>
<circle cx="378.5" cy="465" r="1.4" fill="#111"/><circle cx="407.4" cy="466.4" r="0.8" fill="#222"/><circle cx="413.4" cy="467.6" r="0.7" fill="#222"/><circle cx="409.8" cy="482.6" r="0.8" fill="#222"/><circle cx="430.7" cy="477" r="0.9" fill="#222"/><circle cx="488" cy="470.5" r="0.7" fill="#222"/><circle cx="360" cy="472" r="0.8" fill="#222"/><circle cx="470" cy="486" r="0.7" fill="#222"/><circle cx="386" cy="490" r="0.7" fill="#222"/><circle cx="456" cy="478" r="0.7" fill="#222"/><circle cx="441" cy="474" r="0.6" fill="#222"/><circle cx="418" cy="488" r="0.6" fill="#333"/>
<text x="330" y="466.8" font-size="4.2" fill="#e4dc26" stroke="#e4dc26" stroke-width="0.12">Scanning mode: XY2 line scan</text>
<text x="330" y="471.8" font-size="4.2" fill="#e4dc26" stroke="#e4dc26" stroke-width="0.12">Color</text>
<text x="330" y="476.7" font-size="4.2" fill="#e4dc26" stroke="#e4dc26" stroke-width="0.12">Image size(pixel): 3840x1373</text>
<text x="330" y="481.7" font-size="4.2" fill="#e4dc26" stroke="#e4dc26" stroke-width="0.12">Image size(μm): 1742x639</text>
<text x="330" y="486.6" font-size="4.2" fill="#e4dc26" stroke="#e4dc26" stroke-width="0.12">Objective</text>
<text x="330" y="491.6" font-size="4.2" fill="#e4dc26" stroke="#e4dc26" stroke-width="0.12">lens:MPLAPONLEXT20</text>
<text x="330" y="496.5" font-size="4.2" fill="#e4dc26" stroke="#e4dc26" stroke-width="0.12">Zoom:1X</text>
<rect x="334.6" y="502.3" width="158.9" height="26.0" rx="3.5" fill="none" stroke="#eeae16" stroke-width="1.6"/>
<text x="339" y="510.9" font-size="7.6" fill="#f4f4f4" stroke="#f4f4f4" stroke-width="0.3" textLength="30.6" lengthAdjust="spacingAndGlyphs">Interface</text>
<text x="419.9" y="539.9" font-size="8" fill="#f0e428" stroke="#f0e428" stroke-width="0.4" textLength="52.8" lengthAdjust="spacingAndGlyphs"><tspan font-style="italic" font-size="8.4">E</tspan><tspan font-size="5.8" dy="1.8">V</tspan><tspan dy="-1.8"> = 10 J / mm</tspan><tspan font-size="6" dy="-3.2">3</tspan></text>
<rect x="330.3" y="541.2" width="48.2" height="3.4" fill="#ffff10"/>
<rect x="330.3" y="541.2" width="12.7" height="3.4" fill="#fcfcec"/>
<rect x="354.5" y="541.2" width="12.1" height="3.4" fill="#fcfcec"/>
<rect x="377.7" y="538.0" width="0.8" height="6.6" fill="#f4f020"/>
<rect x="330.3" y="538.0" width="0.6" height="6.6" fill="#f4f020" opacity="0.6"/>
<text x="355.0" y="538.6" font-size="3.6" fill="#eee22a" font-weight="bold" text-anchor="middle">400μm</text>
</svg></body></html>
